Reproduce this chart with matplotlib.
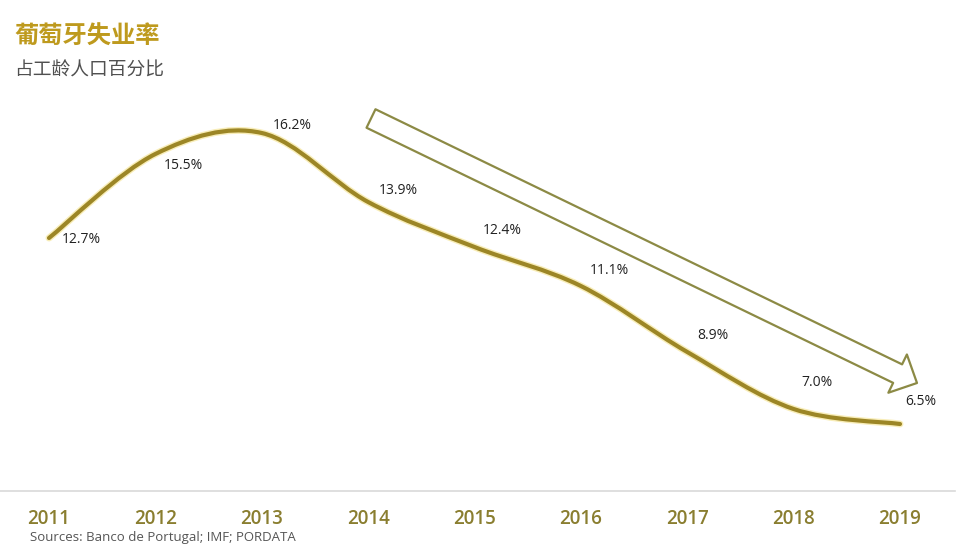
import matplotlib
matplotlib.use("Agg")
import matplotlib.pyplot as plt
import numpy as np
from matplotlib.path import Path
from matplotlib.patches import PathPatch, FancyArrowPatch

# ---------------- data ----------------
years = [2011, 2012, 2013, 2014, 2015, 2016, 2017, 2018, 2019]
rates = [12.7, 15.5, 16.2, 13.9, 12.4, 11.1, 8.9, 7.0, 6.5]
value_labels = ["12.7%", "15.5%", "16.2%", "13.9%", "12.4%", "11.1%", "8.9%", "7.0%", "6.5%"]
year_labels = [str(y) for y in years]
title = "葡萄牙失业率"
subtitle = "占工龄人口百分比"
source = "Sources: Banco de Portugal; IMF; PORDATA"

# label offsets in pixels (styling)
label_offsets = [(32, -2), (28, -12), (31, 7), (30, 11), (28, 16), (29, 15), (26, 16), (23, 26), (21, 22)]

W, H = 977, 554
fig = plt.figure(figsize=(W / 100, H / 100), dpi=100)
fig.patch.set_facecolor("white")

ax = fig.add_axes([0, (H - 491) / H, 955 / W, 491 / H])
px_per_year = 106.375
px_per_unit = 30.0
x0 = 2011 - 49 / px_per_year
ax.set_xlim(x0, x0 + 955 / px_per_year)
ax.set_ylim(16.2 - (491 - 133) / px_per_unit, 16.2 + 133 / px_per_unit)

for s in ["top", "left", "right"]:
    ax.spines[s].set_visible(False)
ax.spines["bottom"].set_color("#d9d9d9")
ax.spines["bottom"].set_linewidth(1.2)
ax.set_yticks([])
ax.set_xticks(years)
ax.set_xticklabels(year_labels, fontsize=13.5, color="#8A7E30", family=["Open Sans", "DejaVu Sans"],
                   fontweight="semibold")
ax.tick_params(axis="x", length=0, pad=13)

# smooth curve (Catmull-Rom -> cubic Bezier, like Excel smoothing)
xs = np.array(years, dtype=float)
ys = np.array(rates, dtype=float)
pts = np.column_stack([xs, ys])
verts = [tuple(pts[0])]
codes = [Path.MOVETO]
n = len(pts)
for i in range(n - 1):
    p_prev = pts[i - 1] if i > 0 else pts[i]
    p0 = pts[i]
    p1 = pts[i + 1]
    p_next = pts[i + 2] if i + 2 < n else pts[i + 1]
    c1 = p0 + (p1 - p_prev) / 6.0
    c2 = p1 - (p_next - p0) / 6.0
    verts += [tuple(c1), tuple(c2), tuple(p1)]
    codes += [Path.CURVE4] * 3
path = Path(verts, codes)
ax.add_patch(PathPatch(path, facecolor="none", edgecolor="#F3DF7E", lw=5.0, alpha=0.55,
                       capstyle="round", zorder=2))
ax.add_patch(PathPatch(path, facecolor="none", edgecolor="#9C8626", lw=3.0,
                       capstyle="round", zorder=3))

# value labels
for x, y, lab, (dx, dy) in zip(years, rates, value_labels, label_offsets):
    ax.annotate(lab, (x, y), xytext=(dx * 0.72, dy * 0.72), textcoords="offset points",
                ha="center", va="center", fontsize=10, color="#222222",
                family=["Open Sans", "DejaVu Sans"], zorder=4)

# hollow trend arrow
tail = (x0 + 371 / px_per_year, 16.2 - (118.5 - 133) / px_per_unit)
tip = (x0 + 917 / px_per_year, 16.2 - (383 - 133) / px_per_unit)
arrow = FancyArrowPatch(tail, tip,
                        arrowstyle="simple,head_length=15.5,head_width=30.6,tail_width=14.8",
                        mutation_scale=1, shrinkA=0, shrinkB=0,
                        facecolor="none", edgecolor="#8C8A45", lw=1.6, zorder=3)
ax.add_patch(arrow)

# titles
cjk = ["Noto Sans CJK SC", "DejaVu Sans"]
fig.text(14 / W, 1 - 37 / H, title, fontsize=17.5, fontweight="bold", color="#BE9A1E",
         family=cjk, ha="left", va="center")
fig.text(14 / W, 1 - 70 / H, subtitle, fontsize=13.5, color="#505050",
         family=cjk, ha="left", va="center")
fig.text(30 / W, 1 - 538 / H, source, fontsize=9.5, color="#555555",
         family=["Open Sans", "DejaVu Sans"], ha="left", va="center")

fig.savefig("out.png", dpi=100, facecolor="white")
